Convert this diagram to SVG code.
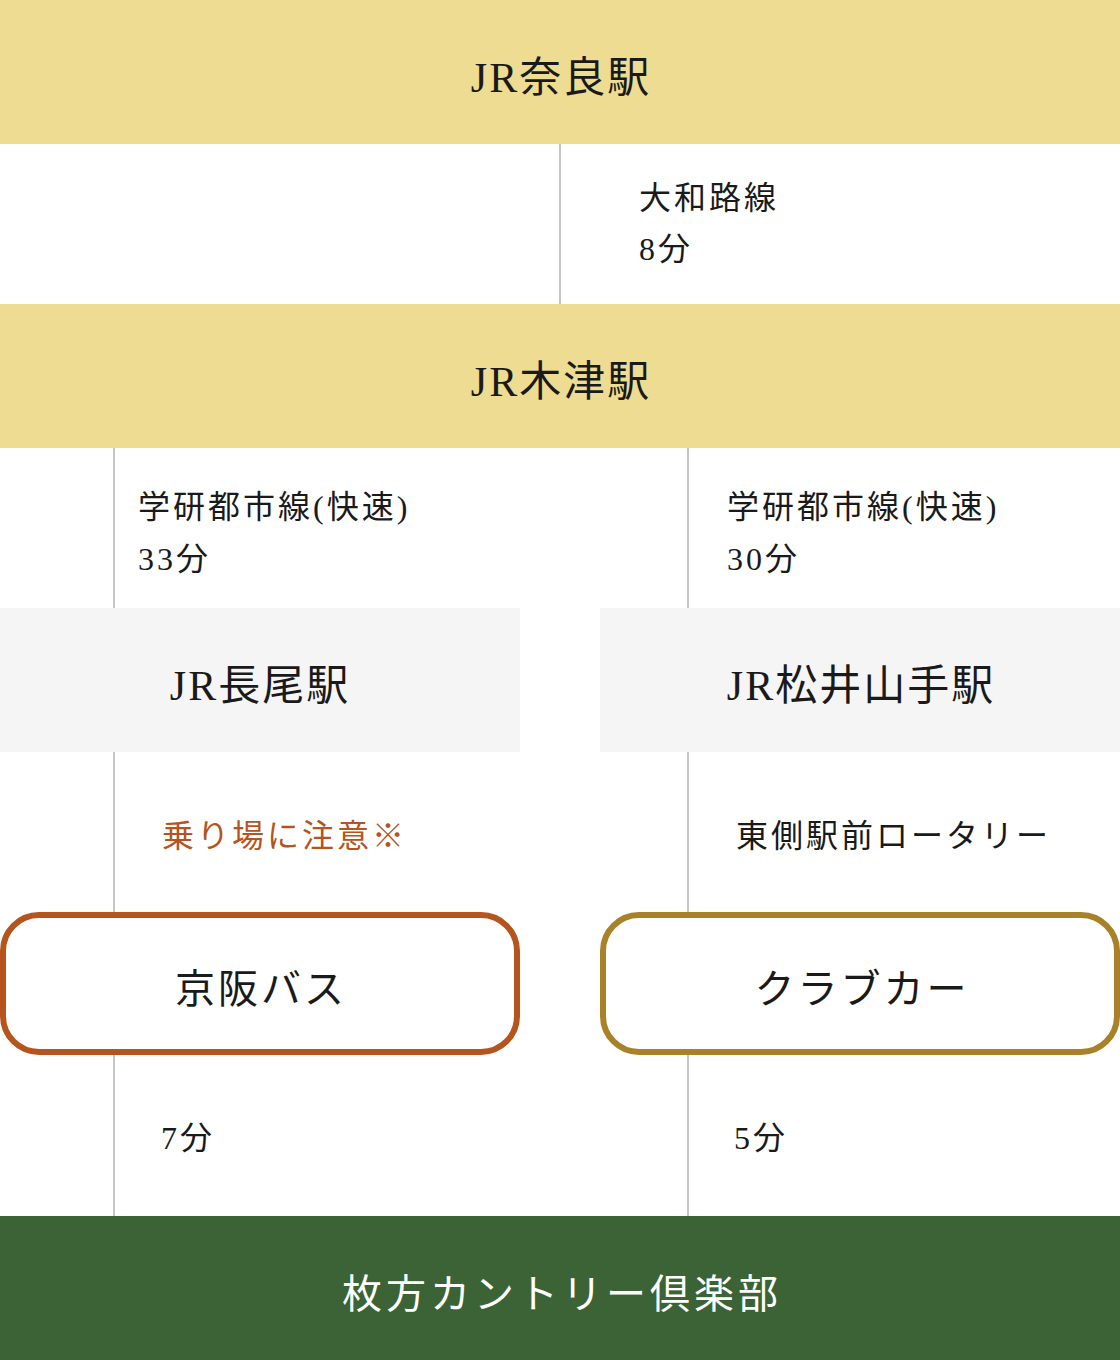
<svg xmlns="http://www.w3.org/2000/svg" width="1120" height="1360" viewBox="0 0 1120 1360">
<style>
text{font-family:"Liberation Serif","Noto Sans CJK JP",serif;fill:#1a1a1a}
.band{fill:#eddc91}
.gray{fill:#f5f5f5}
.h{font-size:42px;letter-spacing:2px;text-anchor:middle}
.s{font-size:32px;letter-spacing:3px}
.b{font-size:40px;letter-spacing:3px;text-anchor:middle}
.ln{stroke:#c6c6c6;stroke-width:2;fill:none}
.box{fill:#fff;stroke-width:6}
</style>
<rect width="1120" height="1360" fill="#fff"/>
<g id="connectors">
<line class="ln" x1="560" y1="144" x2="560" y2="304"/>
<line class="ln" x1="114" y1="448" x2="114" y2="608"/>
<line class="ln" x1="688" y1="448" x2="688" y2="608"/>
<line class="ln" x1="114" y1="752" x2="114" y2="912"/>
<line class="ln" x1="688" y1="752" x2="688" y2="912"/>
<line class="ln" x1="114" y1="1055" x2="114" y2="1216"/>
<line class="ln" x1="688" y1="1055" x2="688" y2="1216"/>
</g>
<g id="nara">
<rect class="band" x="0" y="0" width="1120" height="144"/>
<text class="h" x="561" y="92">JR奈良駅</text>
</g>
<g id="label-yamatoji">
<text class="s" x="639" y="209">大和路線</text>
<text class="s" x="639" y="260">8分</text>
</g>
<g id="kizu">
<rect class="band" x="0" y="304" width="1120" height="144"/>
<text class="h" x="561" y="396">JR木津駅</text>
</g>
<g id="label-gakken-left">
<text class="s" x="138" y="518">学研都市線(快速)</text>
<text class="s" x="138" y="570">33分</text>
</g>
<g id="label-gakken-right">
<text class="s" x="727" y="518">学研都市線(快速)</text>
<text class="s" x="727" y="570">30分</text>
</g>
<g id="nagao">
<rect class="gray" x="0" y="608" width="520" height="144"/>
<text class="h" x="260" y="700">JR長尾駅</text>
</g>
<g id="matsuiyamate">
<rect class="gray" x="600" y="608" width="520" height="144"/>
<text class="h" x="861" y="700">JR松井山手駅</text>
</g>
<g id="label-noriba">
<text class="s" x="162" y="847" style="fill:#b5541c">乗り場に注意※</text>
</g>
<g id="label-rotary">
<text class="s" x="736" y="847">東側駅前ロータリー</text>
</g>
<g id="keihan-bus">
<rect class="box" x="3" y="915" width="514" height="137" rx="36" style="stroke:#b5541c"/>
<text class="b" x="261" y="1003">京阪バス</text>
</g>
<g id="club-car">
<rect class="box" x="603" y="915" width="514" height="137" rx="36" style="stroke:#a98128"/>
<text class="b" x="862" y="1003">クラブカー</text>
</g>
<g id="label-7min">
<text class="s" x="161" y="1149">7分</text>
</g>
<g id="label-5min">
<text class="s" x="734" y="1149">5分</text>
</g>
<g id="hirakata-cc">
<rect x="0" y="1216" width="1120" height="144" fill="#3b6335"/>
<text class="b" x="562" y="1308" style="fill:#fff;letter-spacing:4px">枚方カントリー倶楽部</text>
</g>
</svg>
